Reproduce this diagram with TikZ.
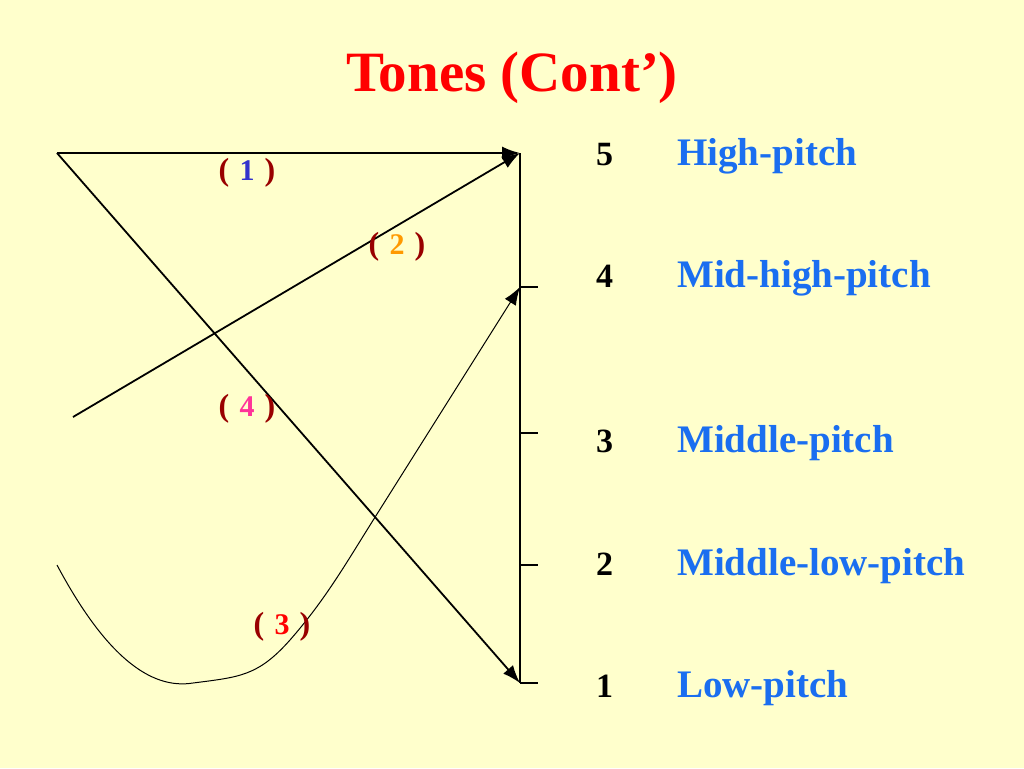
\documentclass[tikz,border=0pt]{standalone}
\usepackage{fontspec}
\setmainfont{Liberation Serif}
\usetikzlibrary{arrows.meta}
\definecolor{slidebg}{HTML}{FFFFCC}
\definecolor{titlered}{HTML}{FF0000}
\definecolor{parenred}{HTML}{990000}
\definecolor{pitchblue}{HTML}{1A6EF0}
\definecolor{toneblue}{HTML}{3333CC}
\definecolor{toneorange}{HTML}{FF9900}
\definecolor{tonepink}{HTML}{FF3399}
\definecolor{tonered}{HTML}{FF0000}
\tikzset{x=1pt, y=-1pt,
  tone/.style={draw, line width=1.8pt, -{Latex[length=18pt,width=13pt]}},
  axis/.style={draw, line width=1.4pt},
  every node/.style={inner sep=0pt, font=\bfseries},
  num/.style={anchor=base west, font=\fontsize{34}{38}\selectfont\bfseries},
  pitch/.style={anchor=base west, text=pitchblue, font=\fontsize{39}{44}\selectfont\bfseries},
  tonelabel/.style={anchor=base, text=parenred, font=\fontsize{32}{36}\selectfont\bfseries}}
\newcommand{\tonenum}[2]{(\hspace{0.32em}{\fontsize{30}{34}\selectfont\color{#1}#2}\hspace{0.32em})}

\begin{document}
\begin{tikzpicture}
  \fill[slidebg] (0,0) rectangle (1024,768);
  \useasboundingbox (0,0) rectangle (1024,768);

  \node[anchor=base, text=titlered, font=\fontsize{57}{62}\selectfont\bfseries] (title) at (512,91) {Tones (Cont’)};

  % pitch scale
  \coordinate (p5) at (520,153);
  \coordinate (p4) at (520,287);
  \coordinate (p3) at (520,433);
  \coordinate (p2) at (520,565);
  \coordinate (p1) at (520,683);
  \draw[axis] (p5) -- (p1);
  \foreach \lvl in {4,3,2,1} {
    \draw[axis] (p\lvl) -- ++(18,0);
  }

  \node[num] (n5) at (596,165) {5};
  \node[num] (n4) at (596,287) {4};
  \node[num] (n3) at (596,452) {3};
  \node[num] (n2) at (596,575) {2};
  \node[num] (n1) at (596,697) {1};
  \node[pitch] (high) at (677,165) {High-pitch};
  \node[pitch] (midhigh) at (677,287) {Mid-high-pitch};
  \node[pitch] (middle) at (677,452) {Middle-pitch};
  \node[pitch] (midlow) at (677,575) {Middle-low-pitch};
  \node[pitch] (low) at (677,697) {Low-pitch};

  % tone contours
  \coordinate (s1) at (57,153);
  \coordinate (s2) at (73,417);
  \coordinate (s3) at (57,565);
  \draw[tone] (s1) -- (p5);
  \draw[tone] (s2) -- (p5);
  \draw[tone] (s1) -- (p1);
  \draw[tone, line width=1pt] (s3) .. controls (105,655) and (150,690) .. (193,683)
    .. controls (240,677) and (258,676) .. (290,640)
    .. controls (325,600) and (345,565) .. (372,522) -- (p4);

  \node[tonelabel] (t1) at (247,180) {\tonenum{toneblue}{1}};
  \node[tonelabel] (t2) at (397,254) {\tonenum{toneorange}{2}};
  \node[tonelabel] (t4) at (247,416) {\tonenum{tonepink}{4}};
  \node[tonelabel] (t3) at (282,634) {\tonenum{tonered}{3}};
\end{tikzpicture}
\end{document}
